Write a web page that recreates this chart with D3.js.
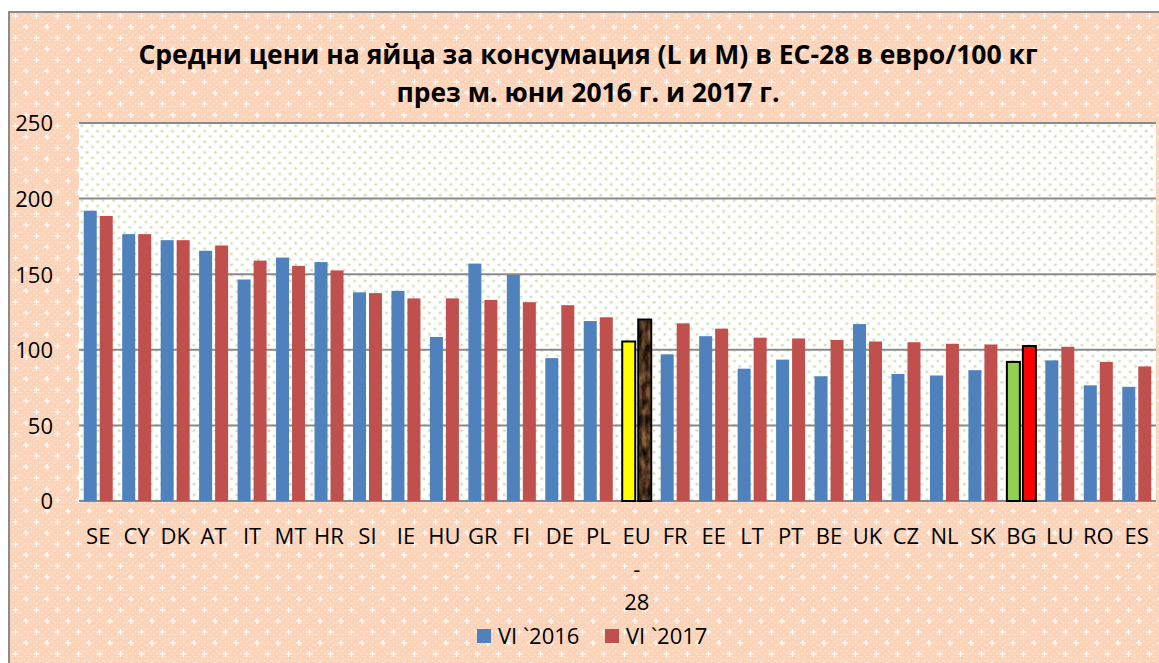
<!DOCTYPE html>
<html>
<head>
<meta charset="utf-8">
<script src="https://cdn.jsdelivr.net/npm/d3@7"></script>
<style>
  body { margin: 0; background: #fff; }
  svg { display: block; font-family: 'Open Sans', 'DejaVu Sans', sans-serif; }
</style>
</head>
<body>
<div id="chart"></div>
<script>
// data
const countries = ['SE', 'CY', 'DK', 'AT', 'IT', 'MT', 'HR', 'SI', 'IE', 'HU', 'GR', 'FI', 'DE', 'PL',
  'EU-28', 'FR', 'EE', 'LT', 'PT', 'BE', 'UK', 'CZ', 'NL', 'SK', 'BG', 'LU', 'RO', 'ES']
const values2016 = [192, 176.5, 172.5, 165.5, 146.5, 161, 158, 138, 139, 108.5, 157, 149.5, 94.5, 119,
  105.5, 97, 109, 87.5, 93.5, 82.5, 117, 84, 83, 86.5, 92, 93, 76.5, 75.5]
const values2017 = [188.5, 176.5, 172.5, 169, 159, 155.5, 152.5, 137.5, 134, 134, 133, 131.5, 129.5, 121.5,
  120, 117.5, 114, 108, 107.5, 106.5, 105.5, 105, 104, 103.5, 102.5, 102, 92, 89]
const seriesNames = ['VI `2016', 'VI `2017']
const yTicks = [0, 50, 100, 150, 200, 250]
const titleLines = ['Средни цени на яйца за консумация (L и M) в ЕС-28 в евро/100 кг',
  'през м. юни 2016 г. и 2017 г.']

const W = 1159
const H = 663
const plot = { left: 79, right: 1156, top: 123, bottom: 501 }

const svg = d3.select('#chart')
  .append('svg')
  .attr('width', W)
  .attr('height', H)

const defs = svg.append('defs')

// peach background pattern with white crosses
const bg = defs.append('pattern')
  .attr('id', 'peach')
  .attr('patternUnits', 'userSpaceOnUse')
  .attr('width', 21)
  .attr('height', 22)
bg.append('rect').attr('width', 21).attr('height', 22).attr('fill', '#fbd3b8')
for (let i = 0; i < 21; i += 3) {
  for (let j = 0; j < 22; j += 3) {
    if ((i + j) % 2 === 0) {
      bg.append('rect').attr('x', i).attr('y', j).attr('width', 1.5).attr('height', 1.5).attr('fill', '#fde3d1')
    }
  }
}
const crosses = [[5, 5], [15.5, 16]]
crosses.forEach(([cx, cy]) => {
  bg.append('rect').attr('x', cx - 3).attr('y', cy - 0.6).attr('width', 6).attr('height', 1.2).attr('fill', '#fff')
  bg.append('rect').attr('x', cx - 0.6).attr('y', cy - 3).attr('width', 1.2).attr('height', 6).attr('fill', '#fff')
})

// light green dotted plot area
const dots = defs.append('pattern')
  .attr('id', 'dots')
  .attr('patternUnits', 'userSpaceOnUse')
  .attr('x', plot.left)
  .attr('y', plot.top)
  .attr('width', 10.7)
  .attr('height', 10.7)
dots.append('rect').attr('width', 10.7).attr('height', 10.7).attr('fill', '#fff')
dots.append('circle').attr('cx', 2.7).attr('cy', 2.7).attr('r', 1.5).attr('fill', '#d3e3b6')
dots.append('circle').attr('cx', 8).attr('cy', 8).attr('r', 1.5).attr('fill', '#d3e3b6')

// dark brown wood-like texture for EU-28 2017
const brownFilter = defs.append('filter')
  .attr('id', 'woodNoise')
  .attr('color-interpolation-filters', 'sRGB')
  .attr('x', 0).attr('y', 0).attr('width', 1).attr('height', 1)
brownFilter.append('feTurbulence')
  .attr('type', 'fractalNoise')
  .attr('baseFrequency', '0.15 0.07')
  .attr('numOctaves', 3)
  .attr('seed', 4)
  .attr('result', 'noise')
brownFilter.append('feColorMatrix')
  .attr('in', 'noise')
  .attr('type', 'matrix')
  .attr('values', '0.9 0 0 0 -0.14  0.65 0 0 0 -0.12  0.45 0 0 0 -0.1  0 0 0 0 1')
  .attr('result', 'col')
brownFilter.append('feComposite')
  .attr('in', 'col')
  .attr('in2', 'SourceGraphic')
  .attr('operator', 'in')

// chart area background + border
svg.append('rect')
  .attr('x', 10).attr('y', 13)
  .attr('width', W - 10).attr('height', H - 13)
  .attr('fill', 'url(#peach)')
svg.append('path')
  .attr('d', `M9,${H} V12 H${W}`)
  .attr('fill', 'none')
  .attr('stroke', '#8c8c8c')
  .attr('stroke-width', 2)

// plot area
svg.append('rect')
  .attr('x', plot.left).attr('y', plot.top)
  .attr('width', plot.right - plot.left).attr('height', plot.bottom - plot.top)
  .attr('fill', 'url(#dots)')

const xScale = d3.scaleBand()
  .domain(countries)
  .range([plot.left, plot.right])
  .paddingInner(0.246)
  .paddingOuter(0.123)

const x1Scale = d3.scaleBand()
  .domain([0, 1])
  .range([0, xScale.bandwidth()])
  .paddingInner(0.1875)

const yScale = d3.scaleLinear()
  .domain([0, 250])
  .range([plot.bottom, plot.top])

// gridlines
svg.append('g')
  .selectAll('line')
  .data(yTicks)
  .enter()
  .append('line')
  .attr('x1', plot.left)
  .attr('x2', plot.right)
  .attr('y1', d => yScale(d))
  .attr('y2', d => yScale(d))
  .attr('stroke', '#8a8a8a')
  .attr('stroke-width', 2)

// y axis labels
const yAxis = d3.axisLeft(yScale).tickValues(yTicks).tickSize(0).tickPadding(0)
svg.append('g')
  .attr('class', 'y-axis')
  .attr('transform', 'translate(53,0)')
  .call(yAxis)
  .call(g => g.select('.domain').remove())
  .selectAll('text')
  .attr('font-family', "'Open Sans', sans-serif")
  .attr('font-size', 22)
  .attr('fill', '#000')
  .attr('dy', '0.36em')

// bars
const rows = countries.map((c, i) => ({ country: c, vals: [values2016[i], values2017[i]] }))
const baseColors = ['#4f81bd', '#c0504d']

function barFill (country, s) {
  if (country === 'EU-28') return s === 0 ? '#ffff00' : '#4a3020'
  if (country === 'BG') return s === 0 ? '#92d050' : '#ff0000'
  return baseColors[s]
}

const groups = svg.append('g')
  .selectAll('g')
  .data(rows)
  .enter()
  .append('g')
  .attr('transform', d => `translate(${xScale(d.country)},0)`)

groups.selectAll('rect')
  .data(d => d.vals.map((v, s) => ({ country: d.country, s: s, v: v })))
  .enter()
  .append('rect')
  .attr('x', d => x1Scale(d.s))
  .attr('y', d => yScale(d.v))
  .attr('width', x1Scale.bandwidth())
  .attr('height', d => yScale(0) - yScale(d.v))
  .attr('fill', d => barFill(d.country, d.s))
  .attr('stroke', d => (d.country === 'EU-28' || d.country === 'BG') ? '#000' : 'none')
  .attr('stroke-width', 2)

// texture overlay for the EU-28 2017 bar
groups.filter(d => d.country === 'EU-28')
  .append('rect')
  .attr('x', x1Scale(1) + 1)
  .attr('y', d => yScale(d.vals[1]) + 1)
  .attr('width', x1Scale.bandwidth() - 2)
  .attr('height', d => yScale(0) - yScale(d.vals[1]) - 2)
  .attr('fill', '#000')
  .attr('filter', 'url(#woodNoise)')

// x labels (EU-28 wraps in the original)
const xLabels = svg.append('g')
  .selectAll('text')
  .data(countries)
  .enter()
  .append('text')
  .attr('x', d => xScale(d) + xScale.bandwidth() / 2)
  .attr('y', 544)
  .attr('text-anchor', 'middle')
  .attr('font-size', 22)
  .attr('fill', '#000')

xLabels.each(function (d) {
  const parts = d === 'EU-28' ? ['EU', '-', '28'] : [d]
  d3.select(this).selectAll('tspan')
    .data(parts)
    .enter()
    .append('tspan')
    .attr('x', xScale(d) + xScale.bandwidth() / 2)
    .attr('dy', (p, i) => i === 0 ? 0 : 33)
    .text(p => p)
})

// title
svg.append('g')
  .selectAll('text')
  .data(titleLines)
  .enter()
  .append('text')
  .attr('x', 588)
  .attr('y', (d, i) => 64 + i * 38)
  .attr('text-anchor', 'middle')
  .attr('font-size', 26.5)
  .attr('font-weight', 'bold')
  .attr('fill', '#000')
  .text(d => d)

// legend
const legendX = [477, 605]
const legend = svg.append('g')
  .selectAll('g')
  .data(seriesNames)
  .enter()
  .append('g')
  .attr('transform', (d, i) => `translate(${legendX[i]},629)`)
legend.append('rect')
  .attr('width', 14)
  .attr('height', 14)
  .attr('fill', (d, i) => baseColors[i])
legend.append('text')
  .attr('x', 21)
  .attr('y', 15)
  .attr('font-size', 22)
  .attr('fill', '#000')
  .text(d => d)
</script>
</body>
</html>
